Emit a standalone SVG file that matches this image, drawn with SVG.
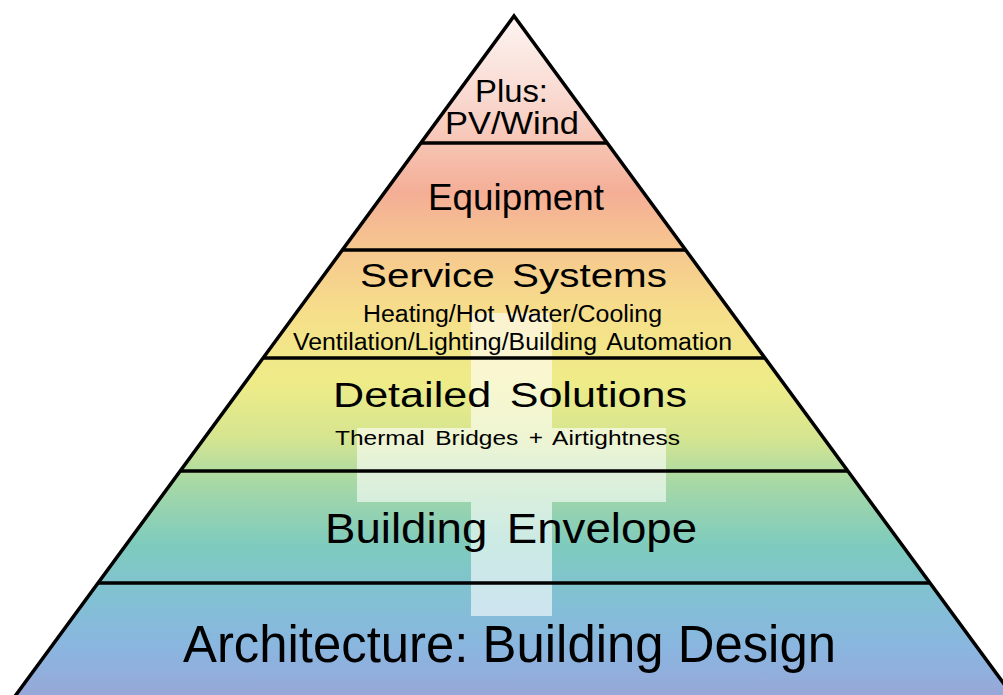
<svg xmlns="http://www.w3.org/2000/svg" width="1003" height="695" viewBox="0 0 1003 695">
  <defs>
    <linearGradient id="tierFill" gradientUnits="userSpaceOnUse" x1="0" y1="16" x2="0" y2="695">
      <stop offset="0" stop-color="#fdf4f2"/>
      <stop offset="0.12" stop-color="#f9d9d0"/>
      <stop offset="0.26" stop-color="#f4ae96"/>
      <stop offset="0.34" stop-color="#f6c68f"/>
      <stop offset="0.44" stop-color="#f6df8a"/>
      <stop offset="0.54" stop-color="#eeec88"/>
      <stop offset="0.62" stop-color="#d6e590"/>
      <stop offset="0.69" stop-color="#a6d8a6"/>
      <stop offset="0.78" stop-color="#7ecbbe"/>
      <stop offset="0.86" stop-color="#82c0d4"/>
      <stop offset="0.93" stop-color="#8ab6e0"/>
      <stop offset="1" stop-color="#97a8d8"/>
    </linearGradient>
    <style>
      .lbl { font-family: "Liberation Sans", Arial, sans-serif; fill: #000; text-anchor: middle; }
      .wide { word-spacing: 0.15em; }
      .rule { stroke: #000; stroke-width: 3.5; fill: none; }
    </style>
  </defs>

  <rect width="1003" height="695" fill="#fff"/>

  <!-- pyramid body -->
  <polygon points="514,16 10,703 1018,703" fill="url(#tierFill)"/>

  <!-- translucent plus sign behind the labels -->
  <path d="M471,313 H552 V428 H666 V502 H552 V616 H471 V502 H357 V428 H471 Z" fill="#fff" fill-opacity="0.6"/>

  <!-- outline and tier dividers -->
  <g id="outline">
    <polyline class="rule" points="10,703 514,16 1018,703" stroke-linejoin="miter"/>
    <line class="rule" x1="421" y1="143" x2="607" y2="143"/>
    <line class="rule" x1="342" y1="250" x2="685" y2="250"/>
    <line class="rule" x1="263" y1="358" x2="764" y2="358"/>
    <line class="rule" x1="180" y1="471" x2="847" y2="471"/>
    <line class="rule" x1="98" y1="583" x2="929" y2="583"/>
  </g>

  <g id="tier-plus">
    <text class="lbl" x="511.5" y="102" font-size="31" textLength="73" lengthAdjust="spacingAndGlyphs">Plus:</text>
    <text class="lbl" x="512" y="134" font-size="31" textLength="134" lengthAdjust="spacingAndGlyphs">PV/Wind</text>
  </g>

  <g id="tier-equipment">
    <text class="lbl" x="516" y="210" font-size="37" textLength="176" lengthAdjust="spacingAndGlyphs">Equipment</text>
  </g>

  <g id="tier-service">
    <text class="lbl wide" x="513.5" y="287" font-size="34" textLength="307" lengthAdjust="spacingAndGlyphs">Service Systems</text>
    <text class="lbl wide" x="512.5" y="322" font-size="23" textLength="299" lengthAdjust="spacingAndGlyphs">Heating/Hot Water/Cooling</text>
    <text class="lbl wide" x="512.5" y="350" font-size="23" textLength="439" lengthAdjust="spacingAndGlyphs">Ventilation/Lighting/Building Automation</text>
  </g>

  <g id="tier-details">
    <text class="lbl wide" x="510" y="407" font-size="35" textLength="354" lengthAdjust="spacingAndGlyphs">Detailed Solutions</text>
    <text class="lbl wide" x="507.5" y="445" font-size="20" textLength="345" lengthAdjust="spacingAndGlyphs">Thermal Bridges + Airtightness</text>
  </g>

  <g id="tier-envelope">
    <text class="lbl wide" x="511" y="543" font-size="43" textLength="372" lengthAdjust="spacingAndGlyphs">Building Envelope</text>
  </g>

  <g id="tier-architecture">
    <text class="lbl" x="509.5" y="662" font-size="51" textLength="653" lengthAdjust="spacingAndGlyphs">Architecture: Building Design</text>
  </g>
</svg>
